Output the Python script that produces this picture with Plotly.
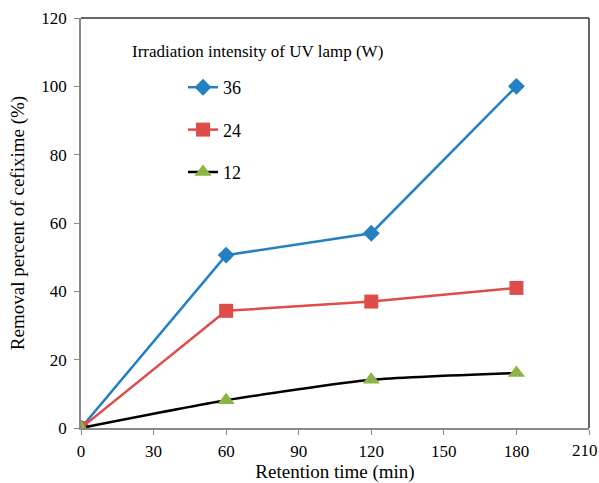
import plotly.graph_objects as go

x_time = [0, 60, 120, 180]
y_36 = [0, 50.6, 57.0, 100.0]
y_24 = [0, 34.3, 37.0, 41.0]
y_12 = [0, 8.1, 14.1, 16.1]
x_ticks = [0, 30, 60, 90, 120, 150, 180, 210]
x_tick_labels = ["0", "30", "60", "90", "120", "150", "180", "210"]
y_ticks = [0, 20, 40, 60, 80, 100, 120]

FONT = "Times New Roman"

# the last x tick label is drawn as an annotation so it can sit fully inside the page
shown_x_labels = x_tick_labels[:-1] + [""]

fig = go.Figure()
fig.add_trace(go.Scatter(x=x_time, y=y_36, name="36", legendgroup="a",
                         mode="lines+markers",
                         line=dict(color="#2380C3", width=2.5),
                         marker=dict(symbol="diamond", size=13, color="#2380C3")))
fig.add_trace(go.Scatter(x=x_time, y=y_24, name="24", legendgroup="b",
                         mode="lines+markers",
                         line=dict(color="#DE4D4A", width=2.5),
                         marker=dict(symbol="square", size=14, color="#DE4D4A")))
fig.add_trace(go.Scatter(x=x_time, y=y_12, name="12", legendgroup="c",
                         mode="lines+markers",
                         line=dict(color="#000000", width=2.5, shape="spline", smoothing=0.6),
                         marker=dict(symbol="triangle-up", size=15, color="#8CB543")))

fig.update_layout(
    width=599, height=483,
    margin=dict(l=81, r=10, t=18, b=55),
    paper_bgcolor="white", plot_bgcolor="white",
    font=dict(family=FONT, size=16, color="#000"),
    showlegend=True,
    legend=dict(x=(183 - 81) / 508, y=(428 - 69) / 410, xanchor="left", yanchor="top",
                bgcolor="rgba(0,0,0,0)", tracegroupgap=16,
                font=dict(family=FONT, size=18)),
    xaxis=dict(range=[0, 210], tickvals=x_ticks, ticktext=shown_x_labels,
               ticks="outside", ticklen=5, ticklabelstandoff=2,
               tickcolor="#888", showgrid=False, zeroline=False,
               showline=True, linecolor="#888", linewidth=1.5, mirror=False,
               ticklabeloverflow="allow", automargin=False,
               tickfont=dict(family=FONT, size=17),
               title=dict(text="Retention time (min)", font=dict(family=FONT, size=19), standoff=4)),
    yaxis=dict(range=[0, 120], tickvals=y_ticks, ticks="outside", ticklen=5,
               ticklabelstandoff=4,
               tickcolor="#888", showgrid=False, zeroline=False,
               showline=True, linecolor="#888", linewidth=1.5, mirror=False,
               automargin=False,
               tickfont=dict(family=FONT, size=17),
               title=dict(text="Removal percent of cefixime (%)", font=dict(family=FONT, size=19), standoff=12)),
    shapes=[
        dict(type="line", xref="paper", yref="paper", x0=0, x1=1, y0=1, y1=1,
             line=dict(color="#333", width=1.5)),
        dict(type="line", xref="paper", yref="paper", x0=1, x1=1, y0=0, y1=1,
             line=dict(color="#333", width=1.5)),
    ],
    annotations=[
        dict(text="Irradiation intensity of UV lamp (W)", xref="paper", yref="paper",
             x=(130 - 81) / 508, y=(428 - 52) / 410, xanchor="left", yanchor="middle",
             showarrow=False, font=dict(family=FONT, size=17)),
        dict(text=x_tick_labels[-1], xref="x", yref="y", x=x_ticks[-1], y=0,
             xanchor="center", yanchor="middle", xshift=-4, yshift=-22,
             showarrow=False, borderpad=0, font=dict(family=FONT, size=17)),
    ],
)

fig.write_html("out.html")
